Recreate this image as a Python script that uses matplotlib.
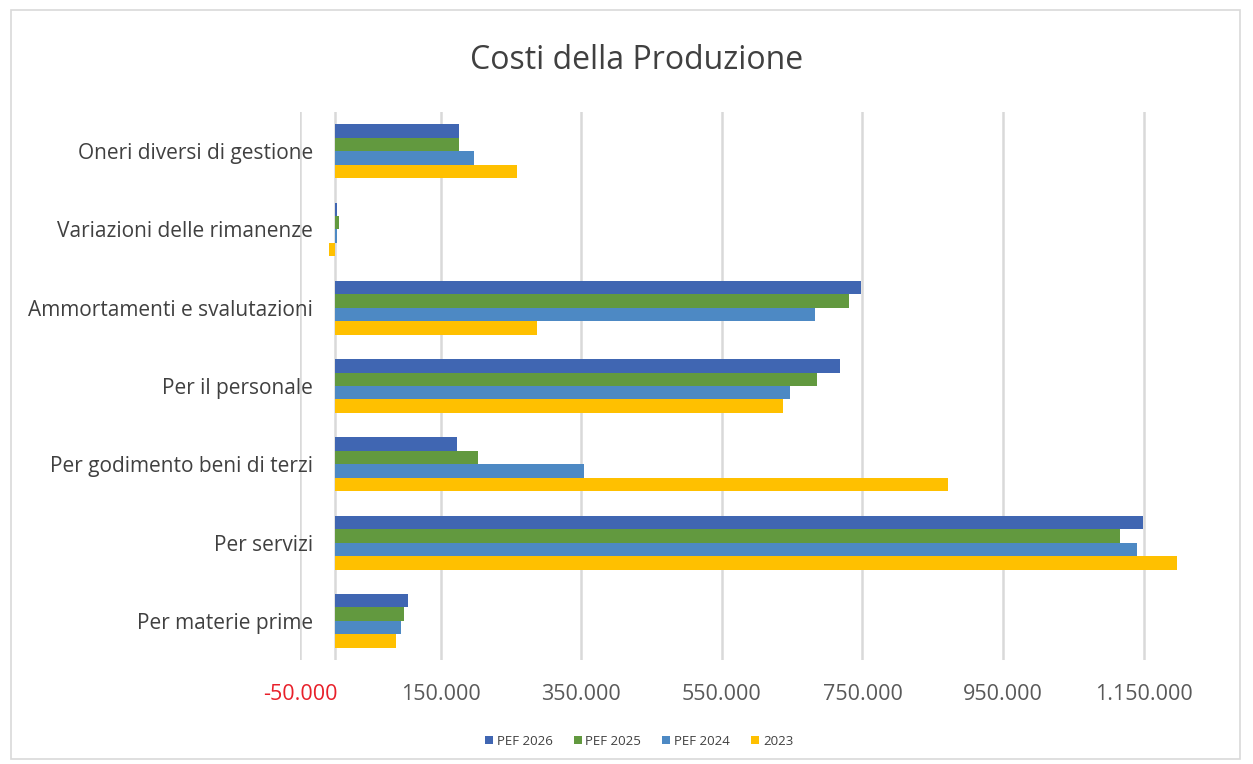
import matplotlib
matplotlib.use("Agg")
import matplotlib.pyplot as plt
import numpy as np
from matplotlib.patches import Rectangle

plt.rcParams['font.family'] = ['Open Sans', 'DejaVu Sans']

# categories, bottom to top (Excel order)
categories = ["Per materie prime", "Per servizi", "Per godimento beni di terzi",
              "Per il personale", "Ammortamenti e svalutazioni",
              "Variazioni delle rimanenze", "Oneri diversi di gestione"]

series_names = ["PEF 2026", "PEF 2025", "PEF 2024", "2023"]
pef2026 = [104000, 1149000, 173000, 718000, 748000, 2000, 176000]
pef2025 = [98000, 1116000, 203000, 686000, 731000, 5000, 176000]
pef2024 = [93000, 1140000, 354000, 647000, 683000, 2000, 197000]
y2023 = [86000, 1198000, 872000, 637000, 287000, -8000, 258000]

colors = ["#4066B2", "#62993F", "#4D89C4", "#FFC000"]

fig = plt.figure(figsize=(12.53, 7.64), dpi=100)
ax = fig.add_axes([0.2394, 0.1361, 0.7295, 0.7173])

# chart border
fig.patches.append(Rectangle((0.009, 0.006), 0.981, 0.981, transform=fig.transFigure,
                             fill=False, edgecolor="#D9D9D9", linewidth=1.2))

h = 0.172
pos = np.arange(len(categories))
offsets = [1.5, 0.5, -0.5, -1.5]
for vals, name, col, off in zip([pef2026, pef2025, pef2024, y2023], series_names, colors, offsets):
    ax.barh(pos + off * h, vals, height=h, color=col, label=name, zorder=3)

ax.set_xlim(-50000, 1250000)
ax.set_ylim(-0.5, 6.5)
ticks = np.arange(-50000, 1250001, 200000)
ax.set_xticks(ticks)
ax.set_xticklabels([f"{t:,.0f}".replace(",", ".") for t in ticks], fontsize=15.5, color="#595959")
ax.get_xticklabels()[0].set_color("#E8202A")
ax.set_yticks(pos)
ax.set_yticklabels(categories, fontsize=15, color="#404040")
ax.tick_params(axis="both", length=0)
ax.tick_params(axis="x", pad=17)
ax.tick_params(axis="y", pad=-9.4)

ax.grid(axis="x", color="#D9D9D9", linewidth=1.8, zorder=0)
ax.axvline(0, color="#D9D9D9", linewidth=1.8, zorder=1)
for s in ax.spines.values():
    s.set_visible(False)

fig.text(0.508, 0.921, "Costi della Produzione", ha="center", va="center",
         fontsize=23, color="#404040")

leg = ax.legend(loc="center", bbox_to_anchor=(0.51, 0.03), bbox_transform=fig.transFigure,
                ncol=4, frameon=False, fontsize=9.5, handlelength=0.6, handleheight=0.6,
                handletextpad=0.3, columnspacing=1.6)
for t in leg.get_texts():
    t.set_color("#404040")

fig.savefig("out.png", dpi=100)
